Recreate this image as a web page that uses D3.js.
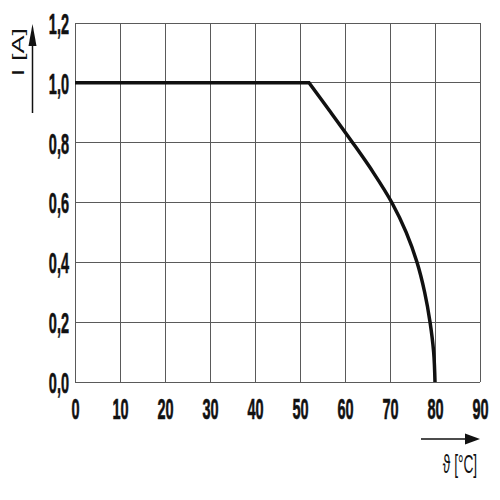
<!DOCTYPE html>
<html>
<head>
<meta charset="utf-8">
<script src="https://cdn.jsdelivr.net/npm/d3@7"></script>
<style>
  html, body { margin: 0; padding: 0; background: #fff; }
  svg { display: block; }
</style>
</head>
<body>
<svg id="chart" width="500" height="500"></svg>
<script>
// ---- data ----
const xTicks = [0, 10, 20, 30, 40, 50, 60, 70, 80, 90];
const yTicks = [0.0, 0.2, 0.4, 0.6, 0.8, 1.0, 1.2];
const temperature = [0, 52, 56.9, 61.7, 66.3, 70.4, 73.6, 76.0, 77.7, 78.9, 79.7, 80];
const current =     [1.0, 1.0, 0.9, 0.8, 0.7, 0.6, 0.5, 0.4, 0.3, 0.2, 0.1, 0.0];
const xTitle = "ϑ [°C]";
const yTitle = "I [A]";

// ---- layout ----
const plotL = 75, plotT = 23, plotR = 480, plotB = 382;
const svg = d3.select("#chart");
const x = d3.scaleLinear().domain([0, 90]).range([plotL, plotR]);
const y = d3.scaleLinear().domain([0, 1.2]).range([plotB, plotT]);

const labelFont = "'Liberation Sans', Arial, sans-serif";
const sx = 0.5;

// grid
const grid = svg.append("g").attr("stroke", "#5a5a5a").attr("stroke-width", 1).attr("shape-rendering", "crispEdges");
grid.selectAll("line.v").data(xTicks).enter().append("line").attr("class", "v")
  .attr("x1", d => x(d)).attr("x2", d => x(d))
  .attr("y1", y(1.2)).attr("y2", y(0));
grid.selectAll("line.h").data(yTicks).enter().append("line").attr("class", "h")
  .attr("x1", x(0)).attr("x2", x(90))
  .attr("y1", d => y(d)).attr("y2", d => y(d));

// axes labels
const fmt = d => d3.format(".1f")(d).replace(".", ",");
const yAxis = svg.append("g").attr("transform", `translate(${plotL},0)`)
  .call(d3.axisLeft(y).tickValues(yTicks).tickSize(0).tickPadding(0).tickFormat(fmt));
yAxis.select(".domain").remove();
yAxis.selectAll("text")
  .attr("font-family", labelFont).attr("font-weight", "bold").attr("font-size", 29)
  .attr("fill", "#111").attr("stroke", "#111").attr("stroke-width", 0.6)
  .attr("x", -6 / sx).attr("dy", "0.36em")
  .attr("transform", `scale(${sx},1)`);

const xAxis = svg.append("g").attr("transform", `translate(0,${plotB})`)
  .call(d3.axisBottom(x).tickValues(xTicks).tickSize(0).tickPadding(0).tickFormat(d3.format("d")));
xAxis.select(".domain").remove();
xAxis.selectAll("text")
  .attr("font-family", labelFont).attr("font-weight", "bold").attr("font-size", 29)
  .attr("fill", "#111").attr("stroke", "#111").attr("stroke-width", 0.6)
  .attr("y", 37).attr("dy", 0)
  .attr("transform", `scale(${sx},1)`);

// curve: sharp knee, smooth derating part
const pts = temperature.map((t, i) => [t, current[i]]);
const flatLine = d3.line().x(d => x(d[0])).y(d => y(d[1]));
const smoothLine = d3.line().x(d => x(d[0])).y(d => y(d[1])).curve(d3.curveCatmullRom.alpha(0.5));
const dPath = flatLine(pts.slice(0, 2)) + smoothLine(pts.slice(1)).replace(/^M/, "L");
svg.append("path")
  .attr("fill", "none")
  .attr("stroke", "#111")
  .attr("stroke-width", 3.5)
  .attr("stroke-linejoin", "miter")
  .attr("d", dPath);

// x-axis arrow & title
svg.append("line").attr("x1", 421).attr("x2", 468).attr("y1", 439).attr("y2", 439)
  .attr("stroke", "#111").attr("stroke-width", 1.5);
svg.append("path").attr("d", "M465,433.5 L480,439 L465,444.5 Z").attr("fill", "#111");
svg.append("text")
  .attr("transform", `translate(460,473) scale(0.55,1)`)
  .attr("text-anchor", "middle")
  .attr("font-family", labelFont).attr("font-size", 25).attr("fill", "#111")
  .text(xTitle);

// y-axis arrow & title
svg.append("line").attr("x1", 32.5).attr("x2", 32.5).attr("y1", 113).attr("y2", 40)
  .attr("stroke", "#111").attr("stroke-width", 1.5);
svg.append("path").attr("d", "M28.5,46 L32.5,24 L36.5,46 Z").attr("fill", "#111");
svg.append("text")
  .attr("transform", `translate(24,52) rotate(-90) scale(1.7,1)`)
  .attr("text-anchor", "middle")
  .attr("font-family", labelFont).attr("font-size", 16).attr("fill", "#111")
  .text(yTitle);
</script>
</body>
</html>
